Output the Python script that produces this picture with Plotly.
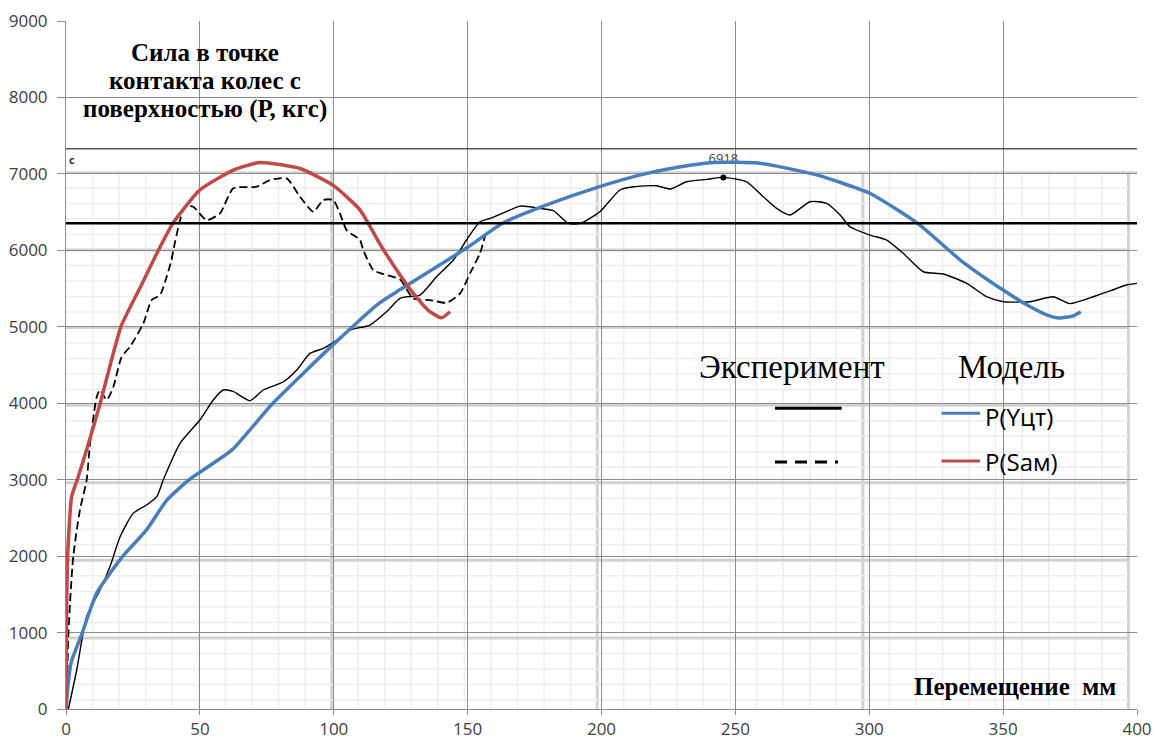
import plotly.graph_objects as go

# --- data -----------------------------------------------------------------
# model curve P(Yцт)
blue_x = [0, 1, 2, 6, 11.5, 21, 30, 37.6, 46, 62, 77, 99, 117, 125, 150, 163, 180,
          199, 215, 229, 242, 259, 280, 300, 318, 334, 350, 359, 366, 371, 376, 379]
blue_y = [0, 400, 620, 990, 1520, 1990, 2340, 2730, 3000, 3390, 3990, 4740, 5310, 5490,
          6040, 6354, 6600, 6830, 6990, 7090, 7150, 7140, 6990, 6750, 6356, 5873, 5480,
          5284, 5160, 5114, 5140, 5197]

# model curve P(Sам)
red_x = [0, 0.1, 0.3, 0.6, 1.2, 2.1, 4.2, 7.7, 12.7, 20.5, 27.6, 34.5, 40, 50, 62.5,
         72.5, 87.4, 99.8, 109.8, 117.3, 124.7, 129.7, 135.9, 140.3, 143.4]
red_y = [0, 800, 1500, 2000, 2400, 2780, 3000, 3390, 3990, 5000, 5506, 6000, 6357, 6790,
         7050, 7150, 7070, 6850, 6530, 6080, 5680, 5437, 5197, 5118, 5197]

# experiment, solid
exp1_x = [0.9, 4, 7.7, 12.7, 16.4, 20.2, 25.1, 30.1, 33.9, 36.3, 42.6, 50, 55, 58.7, 62.4,
          68.7, 73.7, 81.2, 86.2, 91.1, 96.1, 101.1, 106.1, 113.5, 119.8, 124.7, 127.2,
          132.2, 138.4, 144.7, 149.6, 154.6, 158.4, 164, 169.6, 177, 182, 187.6, 192,
          199.4, 206.9, 211.9, 220.6, 225.6, 231.8, 239.3, 245.5, 254.2, 260.4, 265.4,
          270.4, 277.9, 284.1, 289.1, 292.8, 300.3, 306.5, 312.7, 320.2, 327.6, 336.4,
          343.8, 350.1, 360, 368.7, 375, 383.7, 390, 396.1, 400]
exp1_y = [0, 510, 1207, 1556, 1861, 2254, 2559, 2668, 2777, 2995, 3475, 3780, 4042, 4173,
          4155, 4033, 4173, 4281, 4434, 4652, 4717, 4826, 4957, 5023, 5200, 5372, 5393,
          5415, 5655, 5873, 6135, 6374, 6418, 6500, 6579, 6549, 6518, 6353, 6353, 6505,
          6789, 6832, 6845, 6802, 6897, 6928, 6954, 6897, 6701, 6549, 6462, 6636, 6614,
          6462, 6309, 6200, 6135, 5961, 5720, 5690, 5568, 5393, 5328, 5328, 5393, 5303,
          5393, 5470, 5546, 5568]

# experiment, dashed
exp2_x = [0.3, 0.9, 2.7, 5.2, 7.7, 9, 11.5, 12.7, 15.2, 17.7, 20.8, 23.9, 28.9, 32, 35.1,
          37.6, 39.4, 40.1, 42.6, 44.4, 47.5, 52.5, 57.5, 62.5, 71.2, 76.2, 82.4, 87.4,
          92.4, 96.1, 99.8, 102.3, 104.8, 109.8, 111, 114.8, 118.5, 124.7, 129.7, 135.9,
          142.2, 147.2, 150.9, 154.6, 157.1]
exp2_y = [0, 994, 1992, 2603, 2995, 3480, 4085, 4173, 4042, 4216, 4608, 4739, 5045, 5350,
          5415, 5655, 5873, 6004, 6396, 6570, 6570, 6396, 6483, 6811, 6832, 6919, 6941,
          6701, 6505, 6658, 6658, 6483, 6265, 6135, 6004, 5742, 5690, 5620, 5372, 5350,
          5315, 5437, 5699, 5961, 6265]

peak_x = [245.5]
peak_y = [6954]
peak_label = "6918"

level_line = 6355      # black horizontal reference
frame_line = 7330      # dark top border of the inserted picture

x_ticks = [0, 50, 100, 150, 200, 250, 300, 350, 400]
y_ticks = [0, 1000, 2000, 3000, 4000, 5000, 6000, 7000, 8000, 9000]

BLUE = "#4A7EBB"
RED = "#BE4B48"
GRID = "#8c8c8c"

fig = go.Figure()

# background squared paper (scanned grid, slightly off scale)
shapes = []
for i in range(1, 41):
    xv = 9.92 * i
    major = i % 10 == 0
    shapes.append(dict(type="line", layer="below", x0=xv, x1=xv, y0=-100, y1=7020,
                       line=dict(color="#d2d2d2" if major else "#eeeeee",
                                 width=3 if major else 1.5)))
for j in range(1, 35):
    yv = -85 + 203 * j
    major = j % 5 == 0
    shapes.append(dict(type="line", layer="below", x0=0, x1=396.8, y0=yv, y1=yv,
                       line=dict(color="#d2d2d2" if major else "#eeeeee",
                                 width=3 if major else 1.5)))
shapes.append(dict(type="line", layer="below", x0=0, x1=400, y0=7020, y1=7020,
                   line=dict(color="#d2d2d2", width=2)))
fig.update_layout(shapes=shapes)

# label under the lines (partly hidden by the blue curve as in the picture)
fig.add_trace(go.Scatter(x=peak_x, y=[7185], mode="text", text=[peak_label],
                         textfont=dict(family="Open Sans", size=13, color="#404040"),
                         hoverinfo="skip"))

fig.add_trace(go.Scatter(x=exp2_x, y=exp2_y, mode="lines", name="exp dashed",
                         line=dict(color="black", width=1.8, dash="8px,4px",
                                   shape="spline", smoothing=0.6)))
fig.add_trace(go.Scatter(x=exp1_x, y=exp1_y, mode="lines", name="exp solid",
                         line=dict(color="black", width=1.4, shape="spline", smoothing=0.6)))
fig.add_trace(go.Scatter(x=peak_x, y=peak_y, mode="markers",
                         marker=dict(color="black", size=6)))
fig.add_trace(go.Scatter(x=blue_x, y=blue_y, mode="lines", name="P(Yцт)",
                         line=dict(color=BLUE, width=3.5, shape="spline", smoothing=0.5)))
fig.add_trace(go.Scatter(x=red_x, y=red_y, mode="lines", name="P(Sам)",
                         line=dict(color=RED, width=3.5, shape="spline", smoothing=0.5)))

fig.add_hline(y=level_line, line=dict(color="black", width=2.5))
fig.add_hline(y=frame_line, line=dict(color="#555555", width=1.5))

# hand-made legend
serif = "Liberation Serif"
fig.add_annotation(x=271, y=4478, text="Эксперимент", showarrow=False,
                   font=dict(family=serif, size=33, color="black"))
fig.add_annotation(x=353, y=4478, text="Модель", showarrow=False,
                   font=dict(family=serif, size=33, color="black"))
fig.add_shape(type="line", x0=264.8, x1=289.7, y0=3934, y1=3934,
              line=dict(color="black", width=3))
fig.add_shape(type="line", x0=264.8, x1=288.3, y0=3230, y1=3230,
              line=dict(color="black", width=3, dash="12px,8px"))
fig.add_shape(type="line", x0=327, x1=341.4, y0=3870, y1=3870,
              line=dict(color=BLUE, width=3))
fig.add_shape(type="line", x0=327, x1=341.4, y0=3243, y1=3243,
              line=dict(color=RED, width=3))
fig.add_annotation(x=342.3, y=3830, text="P(Yцт)", showarrow=False, xanchor="left",
                   font=dict(family="Open Sans", size=24, color="black"))
fig.add_annotation(x=342.3, y=3235, text="P(Sам)", showarrow=False, xanchor="left",
                   font=dict(family="Open Sans", size=24, color="black"))

# titles inside the plot
title_lines = ["Сила в точке", "контакта колес с", "поверхностью (Р, кгс)"]
for k, line in enumerate(title_lines):
    fig.add_annotation(x=52, y=8590 - k * 372, text="<b>" + line + "</b>", showarrow=False,
                       font=dict(family=serif, size=25, color="black"))
fig.add_annotation(x=393, y=292, text="<b>Перемещение  мм</b>", showarrow=False,
                   xanchor="right", font=dict(family=serif, size=25, color="black"))
fig.add_annotation(x=0.2, y=7190, text="<b>c</b>", showarrow=False, xanchor="left",
                   font=dict(family="Open Sans", size=11, color="#333333"))

tick_font = dict(family="Open Sans", size=17, color="#404040")
fig.update_xaxes(range=[0, 400], tickvals=x_ticks, showgrid=True, gridcolor=GRID,
                 gridwidth=1, showline=True, linecolor=GRID, ticks="outside",
                 ticklen=5, tickcolor=GRID, tickfont=tick_font, zeroline=False,
                 automargin=False)
fig.update_yaxes(range=[0, 9000], tickvals=y_ticks, showgrid=True, gridcolor=GRID,
                 gridwidth=1, showline=True, linecolor=GRID, ticks="outside",
                 ticklen=8, tickcolor=GRID, tickfont=tick_font, zeroline=False,
                 ticklabelstandoff=6, automargin=False)

fig.update_layout(width=1153, height=742, showlegend=False,
                  margin=dict(l=66, r=16, t=21, b=33),
                  plot_bgcolor="white", paper_bgcolor="white")

# page body has a default margin; drop it so the figure sits at the window origin
fig.write_html("out.html", config={"displayModeBar": False},
               post_script="document.body.style.margin='0';"
                           "document.body.style.overflow='hidden';")
